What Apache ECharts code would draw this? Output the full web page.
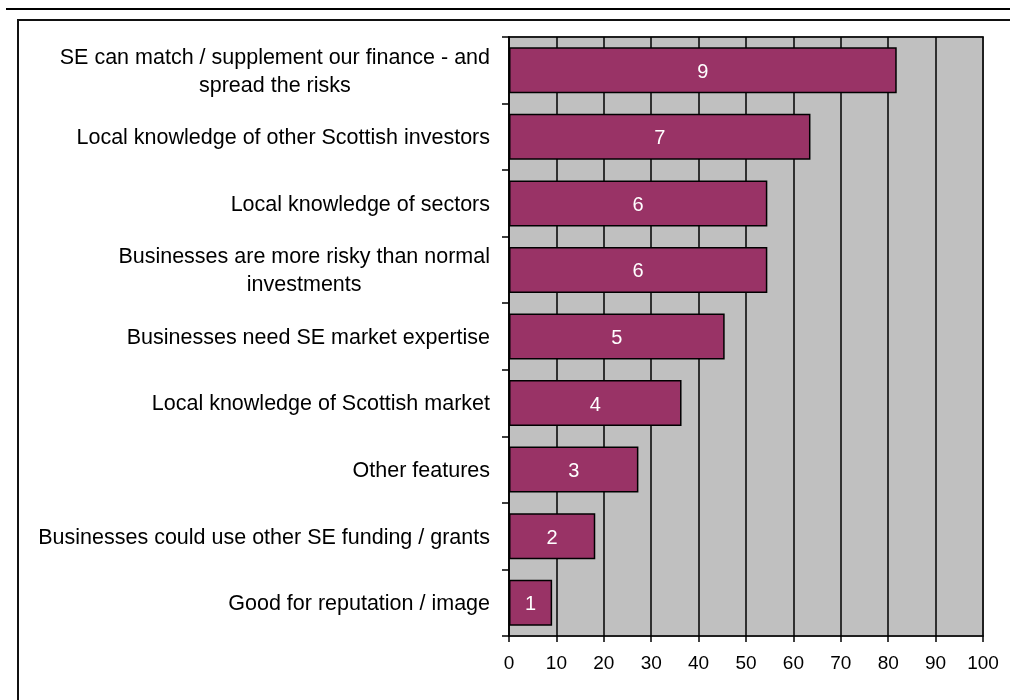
<!DOCTYPE html>
<html>
<head>
<meta charset="utf-8">
<script src="https://cdn.jsdelivr.net/npm/echarts@6/dist/echarts.min.js"></script>
<style>
  html, body { margin: 0; padding: 0; background: #ffffff; }
  #chart { width: 1010px; height: 700px; }
</style>
</head>
<body>
<div id="chart"></div>
<script>
// Reasons given (top to bottom)
const categories = [
  'SE can match / supplement our finance - and\nspread the risks',
  'Local knowledge of other Scottish investors',
  'Local knowledge of sectors',
  'Businesses are more risky than normal\ninvestments',
  'Businesses need SE market expertise',
  'Local knowledge of Scottish market',
  'Other features',
  'Businesses could use other SE funding / grants',
  'Good for reputation / image'
];
// Number of respondents citing each reason (shown inside the bars)
const counts = [9, 7, 6, 6, 5, 4, 3, 2, 1];
// Share of respondents, %
const percents = [81.8, 63.6, 54.5, 54.5, 45.5, 36.4, 27.3, 18.2, 9.1];
// Value-axis tick labels
const xTicks = ['0', '10', '20', '30', '40', '50', '60', '70', '80', '90', '100'];

const FONT = '"Liberation Sans", Arial, Helvetica, sans-serif';

const chart = echarts.init(document.getElementById('chart'), null, { renderer: 'canvas' });

chart.setOption({
  backgroundColor: '#ffffff',
  animation: false,
  grid: {
    left: 509,
    right: 27,
    top: 37,
    bottom: 64,
    show: true,
    backgroundColor: '#c0c0c0',
    borderColor: '#808080',
    borderWidth: 2
  },
  graphic: [
    {
      type: 'line',
      shape: { x1: 6, y1: 9, x2: 1010, y2: 9 },
      style: { stroke: '#000', lineWidth: 2 },
      silent: true
    },
    {
      type: 'rect',
      shape: { x: 18, y: 20, width: 1010, height: 700 },
      style: { fill: null, stroke: '#111', lineWidth: 2 },
      silent: true,
      z: -1
    }
  ],
  xAxis: [
    {
      type: 'value',
      min: 0,
      max: 100,
      interval: 10,
      position: 'bottom',
      axisLine: { show: true, lineStyle: { color: '#000', width: 1.5 } },
      axisTick: { show: true, length: 6, lineStyle: { color: '#000', width: 1.5 } },
      axisLabel: {
        color: '#000',
        fontFamily: FONT,
        fontSize: 19,
        margin: 18,
        formatter: function (v) { return xTicks[Math.round(v / 10)]; }
      },
      splitLine: { show: true, lineStyle: { color: '#000', width: 1.5 } }
    },
    {
      type: 'value',
      min: 0,
      max: 100,
      interval: 10,
      position: 'top',
      axisLine: { show: true, lineStyle: { color: '#000', width: 1.5 } },
      axisTick: { show: false },
      axisLabel: { show: false },
      splitLine: { show: false }
    }
  ],
  yAxis: {
    type: 'category',
    inverse: true,
    data: categories,
    axisLine: { show: true, lineStyle: { color: '#000', width: 1.5 } },
    axisTick: { show: true, length: 7, lineStyle: { color: '#000', width: 1.5 } },
    axisLabel: {
      color: '#000',
      fontFamily: FONT,
      fontSize: 21.5,
      margin: 19,
      lineHeight: 28,
      padding: [3, 0, 0, 0],
      formatter: function (v) {
        return v.split('\n').map(function (l) { return '{c|' + l + '}'; }).join('\n');
      },
      rich: {
        c: {
          align: 'center',
          color: '#000',
          fontFamily: FONT,
          fontSize: 21.5,
          lineHeight: 28
        }
      }
    }
  },
  series: [
    {
      type: 'bar',
      xAxisIndex: 0,
      data: percents,
      barWidth: 46,
      itemStyle: {
        color: '#993366',
        borderColor: '#000',
        borderWidth: 1.5
      },
      label: {
        show: true,
        position: 'inside',
        offset: [0, 2],
        color: '#ffffff',
        fontFamily: FONT,
        fontSize: 20,
        formatter: function (p) { return String(counts[p.dataIndex]); }
      }
    }
  ]
});
</script>
</body>
</html>
